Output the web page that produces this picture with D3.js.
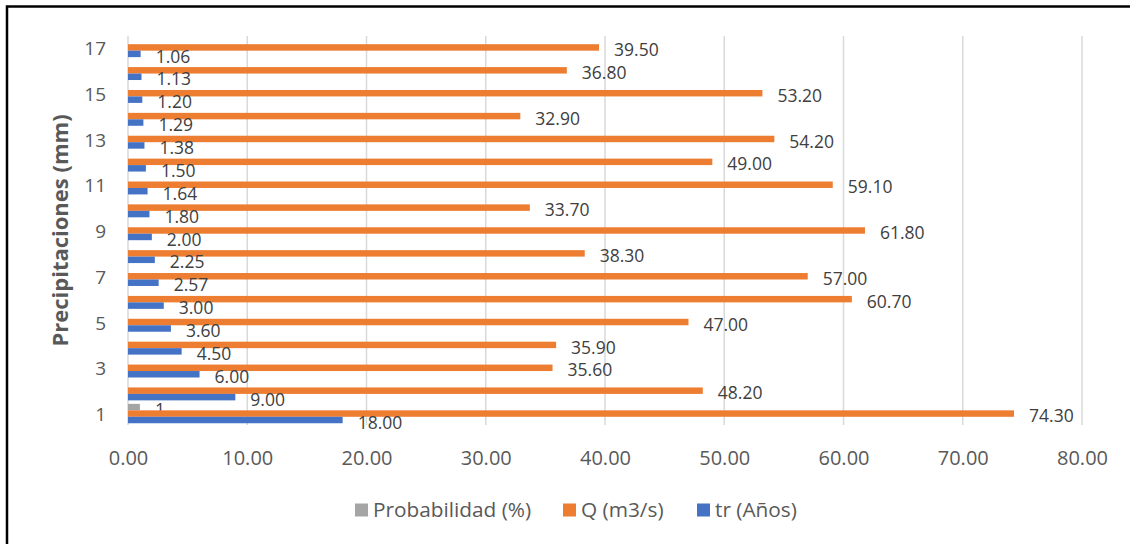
<!DOCTYPE html>
<html><head><meta charset="utf-8">
<script src="https://cdn.jsdelivr.net/npm/d3@7"></script>
<style>body{margin:0;background:#fff}svg{display:block}</style>
</head><body><svg id="c" width="1130" height="544"></svg>
<script>
const categories = ["1","2","3","4","5","6","7","8","9","10","11","12","13","14","15","16","17"];
const trValues = [18.00,9.00,6.00,4.50,3.60,3.00,2.57,2.25,2.00,1.80,1.64,1.50,1.38,1.29,1.20,1.13,1.06];
const qValues = [74.30,48.20,35.60,35.90,47.00,60.70,57.00,38.30,61.80,33.70,59.10,49.00,54.20,32.90,53.20,36.80,39.50];
const probValues = [1,null,null,null,null,null,null,null,null,null,null,null,null,null,null,null,null];
const xTicks = [0,10,20,30,40,50,60,70,80];
const seriesNames = ["Probabilidad (%)","Q (m3/s)","tr (Años)"];
const seriesColors = ["#A5A5A5","#ED7D31","#4472C4"];

(function(){
const series = [
  {name: seriesNames[0], values: probValues, color: seriesColors[0], fmt: d => d3.format("d")(d)},
  {name: seriesNames[1], values: qValues, color: seriesColors[1], fmt: d => d3.format(".2f")(d)},
  {name: seriesNames[2], values: trValues, color: seriesColors[2], fmt: d => d3.format(".2f")(d)}
];

const svg = d3.select("#c");
const font = "'Open Sans', 'Noto Sans', sans-serif";
const pL = 128, pR = 1082, pT = 36, pB = 425;

svg.append("rect").attr("x",7).attr("y",6.5).attr("width",1140).attr("height",560)
  .attr("fill","none").attr("stroke","#000").attr("stroke-width",2.5);

const x = d3.scaleLinear().domain([0,80]).range([pL,pR]);
const y0 = d3.scaleBand().domain(categories).range([pB, pT]).paddingInner(0).paddingOuter(0);
const y1 = d3.scaleBand().domain(seriesNames).range([0, y0.bandwidth()]).paddingInner(0).paddingOuter(0.27);

svg.append("g").selectAll("line").data(xTicks).join("line")
  .attr("x1",d=>x(d)).attr("x2",d=>x(d)).attr("y1",pT).attr("y2",pB)
  .attr("stroke","#D9D9D9").attr("stroke-width",1.5);

const xAxis = d3.axisBottom(x).tickValues(xTicks).tickFormat(d3.format(".2f")).tickSize(0).tickPadding(0);
const gx = svg.append("g").attr("transform",`translate(0,${pB})`).call(xAxis);
gx.select(".domain").remove();
gx.selectAll("text").attr("y",33).attr("dy","0.35em").attr("font-family",font).attr("font-size",20).attr("fill","#595959");

const yAxis = d3.axisLeft(y0).tickValues(categories.filter((c,i)=>i%2===0)).tickSize(0).tickPadding(0);
const gy = svg.append("g").attr("transform",`translate(${pL-22},0)`).call(yAxis);
gy.select(".domain").remove();
gy.selectAll("text").attr("dy","0.4em").attr("font-family",font).attr("font-size",19).attr("fill","#595959");

series.forEach(s => {
  const g = svg.append("g");
  const data = categories.map((c,i)=>({c, v: s.values[i]})).filter(d=>d.v!=null);
  g.selectAll("rect").data(data).join("rect")
    .attr("x", x(0)).attr("y", d=>y0(d.c)+y1(s.name))
    .attr("width", d=>x(d.v)-x(0)).attr("height", y1.bandwidth())
    .attr("fill", s.color);
  g.selectAll("text").data(data).join("text")
    .attr("x", d=>x(d.v)+15).attr("y", d=>y0(d.c)+y1(s.name)+y1.bandwidth()/2+2.5)
    .attr("dy","0.35em").attr("font-family",font).attr("font-size",17.5).attr("fill","#404040")
    .text(d=>s.fmt(d.v));
});

svg.append("text").attr("transform",`translate(68,${(pT+pB)/2}) rotate(-90)`)
  .attr("text-anchor","middle").attr("font-family",font).attr("font-weight","bold")
  .attr("font-size",22).attr("fill","#595959").text("Precipitaciones (mm)");

const legendX = [355, 563, 697];
const lg = svg.append("g");
series.forEach((s,i)=>{
  lg.append("rect").attr("x",legendX[i]).attr("y",503.5).attr("width",13).attr("height",13).attr("fill",s.color);
  lg.append("text").attr("x",legendX[i]+18).attr("y",510).attr("dy","0.35em")
    .attr("font-family",font).attr("font-size",20.8).attr("fill","#595959").text(s.name);
});
})();
</script></body></html>
